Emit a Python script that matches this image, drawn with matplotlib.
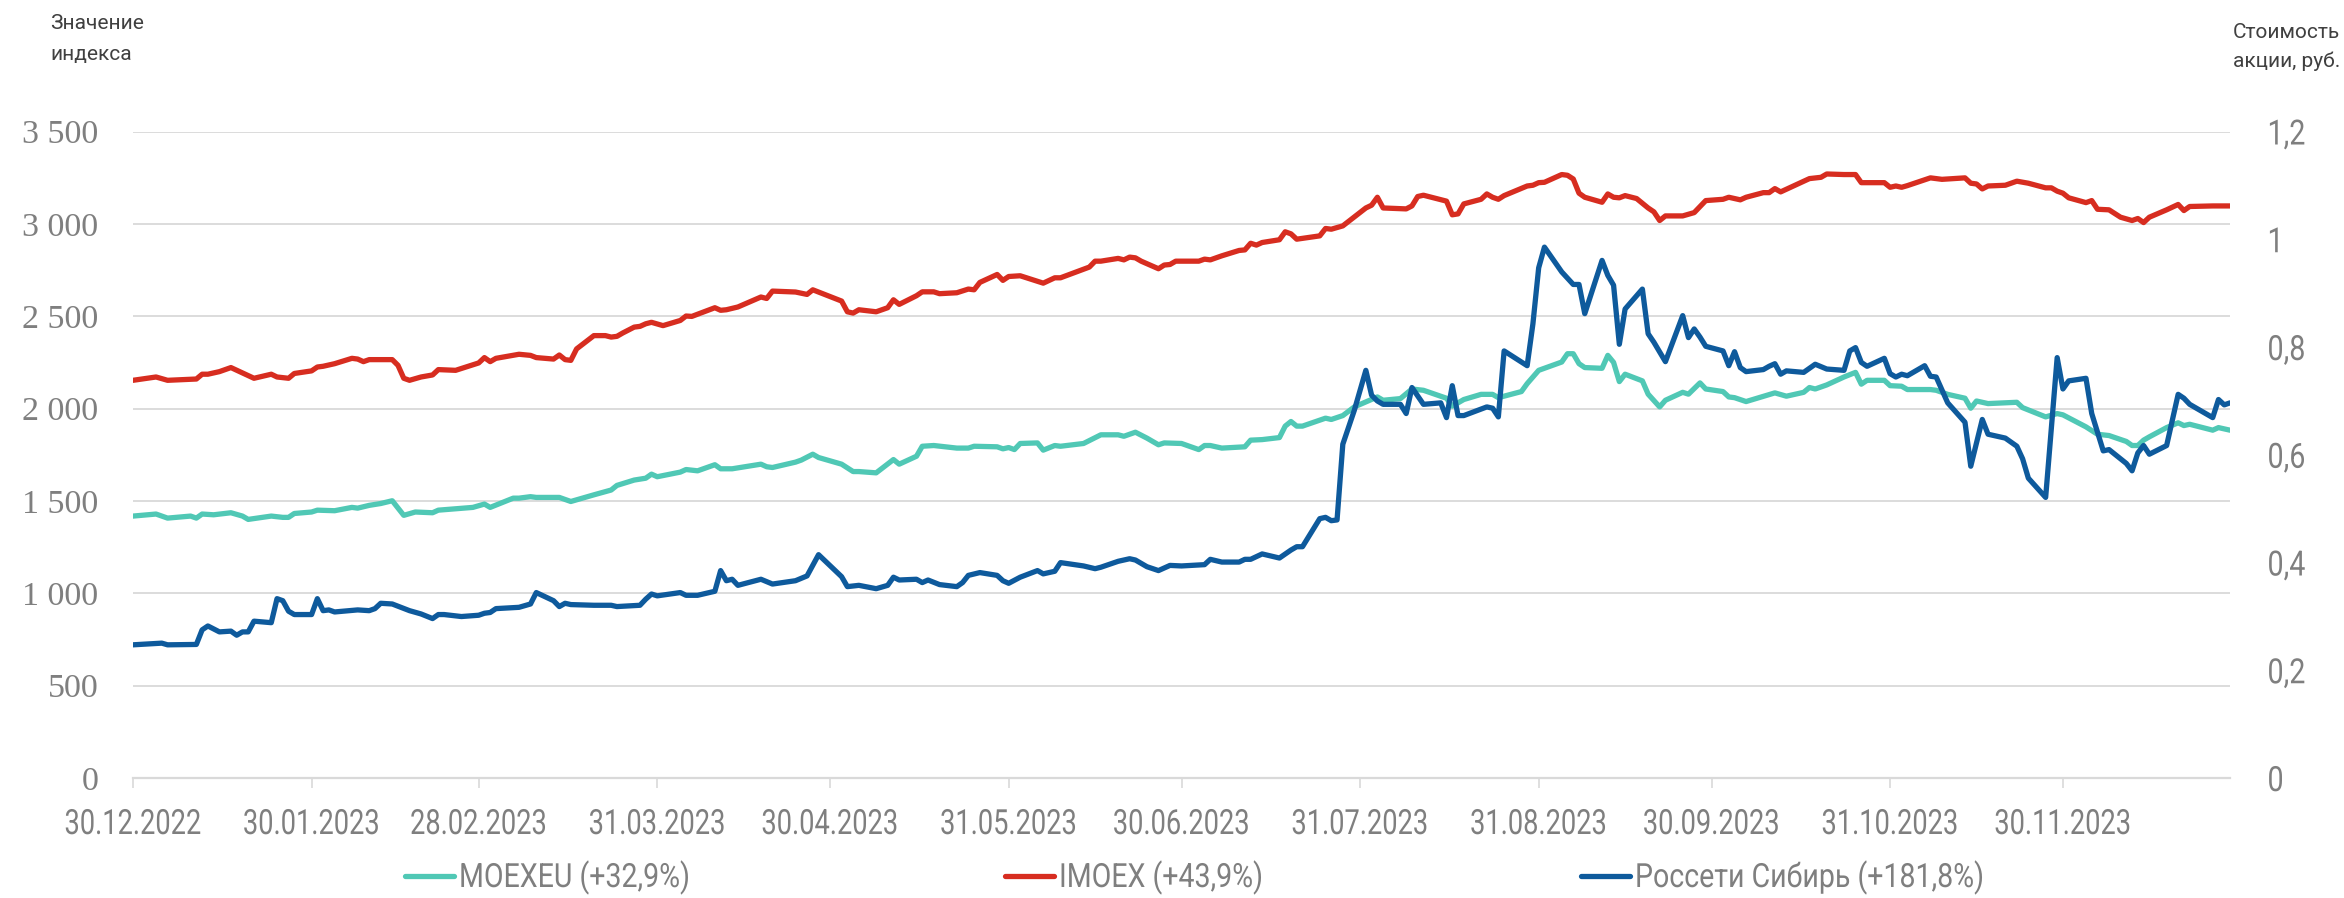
import numpy as np
import pandas as pd
import matplotlib
matplotlib.use("Agg")
import matplotlib.pyplot as plt
from matplotlib.lines import Line2D
from matplotlib.patheffects import AbstractPathEffect
from matplotlib.transforms import Affine2D

# --- data ---
start = pd.Timestamp("2022-12-30")

# IMOEX, index points; days counted from 30.12.2022
imoex_days = [0, 4, 6, 11, 12, 13, 15, 17, 19, 21, 24, 25, 27, 28, 31, 32, 33, 35, 38, 39,
              40, 41, 45, 46, 47, 48, 50, 52, 53, 56, 60, 61, 62, 63, 67, 69, 70, 73, 74, 75,
              76, 77, 80, 82, 83, 84, 85, 87, 88, 89, 90, 92, 95, 96, 97, 101, 102, 103, 105, 109,
              110, 111, 115, 117, 118, 123, 124, 125, 126, 129, 131, 132, 133, 136, 137, 139, 140, 143, 145, 146,
              147, 150, 151, 152, 154, 158, 160, 161, 166, 167, 168, 171, 172, 173, 174, 175, 178, 179, 180, 181,
              185, 186, 187, 189, 192, 193, 194, 195, 196, 199, 200, 201, 202, 206, 207, 208, 210, 214, 215, 216,
              217, 221, 222, 223, 224, 228, 229, 230, 231, 234, 235, 236, 237, 238, 242, 243, 244, 245, 248, 249,
              250, 251, 252, 255, 256, 257, 258, 259, 261, 263, 264, 265, 266, 269, 271, 273, 276, 277, 279, 280,
              283, 284, 285, 286, 291, 293, 294, 297, 299, 300, 304, 305, 306, 307, 308, 312, 314, 318, 319, 320,
              321, 322, 325, 327, 329, 332, 333, 334, 335, 336, 339, 340, 341, 343, 345, 347, 348, 349, 350, 353,
              355, 356, 357, 361, 364]
imoex = [2153, 2171, 2153, 2160, 2186, 2186, 2200, 2222, 2193, 2164, 2186, 2171, 2164, 2190, 2204, 2225, 2229, 2243, 2272, 2268,
         2254, 2265, 2265, 2234, 2164, 2153, 2171, 2182, 2211, 2207, 2247, 2276, 2254, 2272, 2294, 2288, 2276, 2268, 2290, 2265,
         2261, 2323, 2395, 2395, 2387, 2391, 2409, 2441, 2445, 2459, 2467, 2449, 2477, 2501, 2499, 2546, 2532, 2535, 2550, 2604,
         2596, 2636, 2631, 2618, 2643, 2582, 2524, 2517, 2535, 2524, 2546, 2589, 2564, 2611, 2632, 2632, 2622, 2627, 2647, 2643,
         2683, 2726, 2694, 2715, 2719, 2679, 2708, 2708, 2766, 2798, 2798, 2813, 2805, 2820, 2816, 2798, 2757, 2777, 2780, 2798,
         2798, 2809, 2805, 2827, 2856, 2859, 2895, 2885, 2899, 2914, 2957, 2946, 2917, 2935, 2975, 2971, 2989, 3086, 3101, 3144,
         3086, 3081, 3097, 3148, 3155, 3123, 3049, 3054, 3108, 3133, 3162, 3144, 3133, 3153, 3205, 3209, 3223, 3225, 3267, 3263,
         3243, 3166, 3144, 3117, 3162, 3144, 3141, 3153, 3137, 3086, 3065, 3018, 3043, 3043, 3061, 3126, 3133, 3144, 3130, 3144,
         3169, 3169, 3191, 3173, 3245, 3252, 3270, 3267, 3267, 3223, 3223, 3198, 3205, 3198, 3207, 3249, 3241, 3249, 3220, 3216,
         3189, 3205, 3209, 3231, 3220, 3195, 3195, 3177, 3166, 3141, 3115, 3126, 3079, 3076, 3036, 3018, 3029, 3007, 3036, 3076,
         3105, 3072, 3094, 3097, 3097]

# MOEXEU, index points
moexeu_days = [0, 4, 6, 10, 11, 12, 14, 17, 19, 20, 24, 26, 27, 28, 31, 32, 35, 38, 39, 41,
               43, 45, 47, 49, 52, 53, 59, 61, 62, 66, 67, 69, 70, 74, 76, 78, 80, 83, 84, 87,
               89, 90, 91, 95, 96, 98, 101, 102, 104, 109, 110, 111, 115, 116, 118, 119, 123, 125, 126, 129,
               132, 133, 136, 137, 139, 143, 145, 146, 150, 151, 152, 153, 154, 157, 158, 160, 161, 165, 168, 171,
               172, 174, 176, 178, 179, 182, 185, 186, 187, 189, 193, 194, 196, 199, 200, 201, 202, 203, 207, 208,
               210, 212, 216, 217, 220, 222, 224, 228, 229, 231, 234, 236, 237, 241, 242, 244, 248, 249, 250, 251,
               252, 255, 256, 257, 258, 259, 262, 263, 265, 266, 269, 270, 272, 273, 276, 277, 278, 280, 285, 287,
               290, 291, 292, 294, 297, 299, 300, 301, 304, 305, 307, 308, 312, 313, 315, 318, 319, 320, 322, 327,
               328, 332, 334, 335, 339, 341, 343, 346, 347, 348, 349, 350, 353, 355, 356, 357, 361, 362, 364]
moexeu = [1418, 1429, 1407, 1418, 1407, 1429, 1425, 1436, 1418, 1400, 1418, 1411, 1411, 1432, 1440, 1450, 1447, 1465, 1461, 1476,
          1486, 1501, 1422, 1440, 1436, 1450, 1465, 1483, 1465, 1515, 1515, 1523, 1519, 1519, 1497, 1515, 1533, 1559, 1584, 1613,
          1623, 1645, 1631, 1656, 1670, 1663, 1696, 1674, 1674, 1699, 1685, 1681, 1710, 1721, 1753, 1735, 1699, 1659, 1659, 1652,
          1724, 1699, 1742, 1796, 1800, 1786, 1786, 1796, 1793, 1782, 1789, 1778, 1811, 1814, 1775, 1800, 1796, 1811, 1858, 1858,
          1850, 1872, 1840, 1804, 1814, 1811, 1778, 1800, 1800, 1786, 1793, 1829, 1832, 1843, 1905, 1930, 1905, 1905, 1948, 1941,
          1962, 2009, 2063, 2045, 2054, 2106, 2099, 2056, 2013, 2049, 2077, 2077, 2059, 2092, 2135, 2207, 2252, 2297, 2297, 2243,
          2222, 2218, 2288, 2250, 2146, 2186, 2150, 2078, 2009, 2045, 2088, 2078, 2139, 2106, 2092, 2063, 2059, 2038, 2085, 2067,
          2088, 2114, 2106, 2128, 2171, 2196, 2132, 2153, 2153, 2124, 2121, 2103, 2103, 2099, 2077, 2056, 2002, 2041, 2027, 2034,
          2005, 1955, 1973, 1966, 1901, 1861, 1854, 1822, 1800, 1800, 1829, 1847, 1897, 1923, 1908, 1915, 1883, 1897, 1883]

# Россети Сибирь, share price in roubles (right axis)
mrks_days = [0, 5, 6, 11, 12, 13, 15, 17, 18, 19, 20, 21, 24, 25, 26, 27, 28, 31, 32, 33,
             34, 35, 39, 41, 42, 43, 45, 48, 50, 52, 53, 54, 57, 60, 61, 62, 63, 67, 69, 70,
             73, 74, 75, 76, 80, 83, 84, 88, 89, 90, 91, 95, 96, 98, 101, 102, 103, 104, 105, 109,
             111, 115, 117, 119, 123, 124, 126, 129, 131, 132, 133, 136, 137, 138, 140, 143, 144, 145, 147, 150,
             151, 152, 154, 157, 158, 160, 161, 165, 167, 168, 171, 173, 174, 176, 178, 180, 182, 186, 187, 189,
             192, 193, 194, 196, 199, 201, 202, 203, 206, 207, 208, 209, 210, 212, 214, 215, 216, 217, 220, 221,
             222, 224, 227, 228, 229, 230, 231, 235, 236, 237, 238, 242, 243, 244, 245, 248, 250, 251, 252, 255,
             256, 257, 258, 259, 262, 263, 264, 266, 269, 270, 271, 272, 273, 276, 277, 278, 279, 280, 283, 284,
             285, 286, 287, 290, 292, 294, 297, 298, 299, 300, 301, 304, 305, 306, 307, 308, 311, 312, 313, 315,
             318, 319, 321, 322, 325, 327, 328, 329, 332, 334, 335, 336, 339, 340, 342, 343, 346, 347, 348, 349,
             350, 353, 355, 356, 357, 361, 362, 363, 364]
mrks = [0.2472, 0.2503, 0.2472, 0.2479, 0.2750, 0.2822, 0.2712, 0.2726, 0.2650, 0.2712, 0.2712, 0.2911, 0.2883, 0.3329, 0.3291, 0.3096, 0.3034, 0.3034, 0.3329, 0.3106,
        0.3120, 0.3082, 0.3120, 0.3106, 0.3144, 0.3243, 0.3230, 0.3106, 0.3045, 0.2959, 0.3034, 0.3034, 0.2997, 0.3021, 0.3058, 0.3072, 0.3144, 0.3168, 0.3230, 0.3442,
        0.3291, 0.3182, 0.3243, 0.3219, 0.3206, 0.3206, 0.3182, 0.3206, 0.3319, 0.3415, 0.3381, 0.3442, 0.3391, 0.3391, 0.3466, 0.3850, 0.3662, 0.3689, 0.3576, 0.3689,
        0.3600, 0.3662, 0.3751, 0.4145, 0.3737, 0.3552, 0.3576, 0.3514, 0.3576, 0.3727, 0.3675, 0.3689, 0.3627, 0.3675, 0.3590, 0.3552, 0.3627, 0.3761, 0.3813, 0.3761,
        0.3662, 0.3614, 0.3727, 0.3850, 0.3789, 0.3837, 0.3998, 0.3936, 0.3885, 0.3912, 0.4022, 0.4070, 0.4046, 0.3922, 0.3850, 0.3946, 0.3936, 0.3960, 0.4059, 0.4008,
        0.4008, 0.4059, 0.4059, 0.4159, 0.4083, 0.4231, 0.4293, 0.4293, 0.4814, 0.4838, 0.4776, 0.4790, 0.6195, 0.6826, 0.7567, 0.7104, 0.6998, 0.6936, 0.6936, 0.6765,
        0.7248, 0.6936, 0.6963, 0.6689, 0.7282, 0.6727, 0.6727, 0.6888, 0.6864, 0.6703, 0.7927, 0.7653, 0.8431, 0.9470, 0.9854, 0.9394, 0.9161, 0.9161, 0.8619, 0.9607,
        0.9329, 0.9147, 0.8050, 0.8705, 0.9075, 0.8246, 0.8088, 0.7728, 0.8582, 0.8174, 0.8335, 0.8184, 0.8013, 0.7927, 0.7653, 0.7913, 0.7618, 0.7543, 0.7581, 0.7642,
        0.7690, 0.7495, 0.7557, 0.7529, 0.7680, 0.7591, 0.7567, 0.7927, 0.7989, 0.7714, 0.7642, 0.7790, 0.7505, 0.7443, 0.7495, 0.7467, 0.7653, 0.7457, 0.7443, 0.6963,
        0.6603, 0.5787, 0.6655, 0.6381, 0.6309, 0.6158, 0.5925, 0.5565, 0.5208, 0.7803, 0.7221, 0.7371, 0.7419, 0.6765, 0.6072, 0.6096, 0.5839, 0.5702, 0.6034, 0.6171,
        0.6010, 0.6171, 0.7121, 0.7049, 0.6936, 0.6689, 0.7025, 0.6926, 0.6963]

series_labels = ["MOEXEU (+32,9%)", "IMOEX (+43,9%)", "Россети Сибирь (+181,8%)"]
x_tick_labels = ["30.12.2022", "30.01.2023", "28.02.2023", "31.03.2023", "30.04.2023", "31.05.2023",
                 "30.06.2023", "31.07.2023", "31.08.2023", "30.09.2023", "31.10.2023", "30.11.2023"]
left_ticks = [0, 500, 1000, 1500, 2000, 2500, 3000, 3500]
left_tick_labels = ["0", "500", "1 000", "1 500", "2 000", "2 500", "3 000", "3 500"]
right_ticks = [0, 0.2, 0.4, 0.6, 0.8, 1.0, 1.2]
right_tick_labels = ["0", "0,2", "0,4", "0,6", "0,8", "1", "1,2"]

# --- style ---
cond_font = ["Roboto", "DejaVu Sans"]      # squeezed below to look like a condensed face
serif_font = ["Liberation Serif", "DejaVu Serif"]
title_font = ["Roboto", "DejaVu Sans"]

c_teal = "#50C8B5"
c_red = "#D72D20"
c_blue = "#0E5A9C"
c_grid = "#D9D9D9"
c_text = "#7F7F7F"


class Squeeze(AbstractPathEffect):
    """draw text narrower, keeping its anchor point in place"""

    def __init__(self, sx, anchor="center"):
        super().__init__()
        self.sx = sx
        self.anchor = anchor

    def draw_path(self, renderer, gc, tpath, affine, rgbFace=None):
        ext = tpath.get_extents()
        if self.anchor == "center":
            cx = 0.5 * (ext.x0 + ext.x1)
        elif self.anchor == "right":
            cx = ext.x1
        else:
            cx = 0.0
        pre = Affine2D().translate(-cx, 0).scale(self.sx, 1).translate(cx, 0)
        renderer.draw_path(gc, tpath, pre + affine, rgbFace)


def to_dates(days):
    return start + pd.to_timedelta(np.array(days), unit="D")


W, H = 2344, 898
fig = plt.figure(figsize=(W / 100, H / 100), dpi=100)
ax = fig.add_axes([133 / W, 1 - 778 / H, (2230 - 133) / W, (778 - 131.5) / H])
renderer = fig.canvas.get_renderer()

l1, = ax.plot(to_dates(moexeu_days), moexeu, color=c_teal, lw=3.8,
              solid_joinstyle="round", solid_capstyle="round", zorder=3)
l2, = ax.plot(to_dates(imoex_days), imoex, color=c_red, lw=3.8,
              solid_joinstyle="round", solid_capstyle="round", zorder=3)

ax.set_ylim(0, 3500)
ax.set_yticks(left_ticks)
ax.set_yticklabels(left_tick_labels, family=serif_font, fontsize=24.5, color=c_text)
ax.grid(axis="y", color=c_grid, lw=1.3)
ax.set_axisbelow(True)
ax.tick_params(axis="y", length=0, pad=25)

tick_dates = pd.to_datetime(x_tick_labels, format="%d.%m.%Y")
ax.set_xlim(start, start + pd.Timedelta(days=364))
ax.set_xticks(tick_dates)
xl = ax.set_xticklabels(x_tick_labels, family=cond_font, fontsize=25, color=c_text)
ax.tick_params(axis="x", direction="out", length=7.2, width=1.2, color=c_grid, pad=14.4)
sx_x = 137 / xl[0].get_window_extent(renderer).width
for t in xl:
    t.set_path_effects([Squeeze(sx_x, "center")])

for s in ["top", "left", "right"]:
    ax.spines[s].set_visible(False)
ax.spines["bottom"].set_color(c_grid)
ax.spines["bottom"].set_linewidth(1.6)

ax2 = ax.twinx()
l3, = ax2.plot(to_dates(mrks_days), mrks, color=c_blue, lw=3.8,
               solid_joinstyle="round", solid_capstyle="round", zorder=4)
ax2.set_ylim(0, 1.2)
ax2.set_yticks(right_ticks)
rl = ax2.set_yticklabels(right_tick_labels, family=cond_font, fontsize=25, color=c_text)
ax2.tick_params(axis="y", length=0, pad=27)
sx_r = 38 / rl[4].get_window_extent(renderer).width
for t in rl:
    t.set_path_effects([Squeeze(sx_r, "left")])
for s in ax2.spines.values():
    s.set_visible(False)

fig.text(50 / W, 1 - 39 / H, "Значение\nиндекса", family=title_font, fontsize=15,
         color="#404040", ha="left", va="center", linespacing=1.85)
fig.text(2233 / W, 1 - 47 / H, "Стоимость\nакции, руб.", family=title_font, fontsize=15,
         color="#404040", ha="left", va="center", linespacing=1.6)

# legend drawn by hand so the squeezed labels keep the reference spacing
legend_x = [402, 1002, 1578]
leg_y = 1 - 876 / H
leg_texts = []
for x0, line, label in zip(legend_x, [l1, l2, l3], series_labels):
    fig.add_artist(Line2D([(x0 + 3) / W, (x0 + 52) / W], [leg_y, leg_y], color=line.get_color(),
                          lw=3.8, solid_capstyle="round"))
    leg_texts.append(fig.text((x0 + 57) / W, 1 - 887 / H, label, family=cond_font, fontsize=24,
                              color=c_text, ha="left", va="baseline"))
measured = sum(t.get_window_extent(renderer).width for t in leg_texts)
sx_l = (231 + 202 + 352) / measured
for t in leg_texts:
    t.set_path_effects([Squeeze(sx_l, "left")])

fig.savefig("out.png", dpi=100)
